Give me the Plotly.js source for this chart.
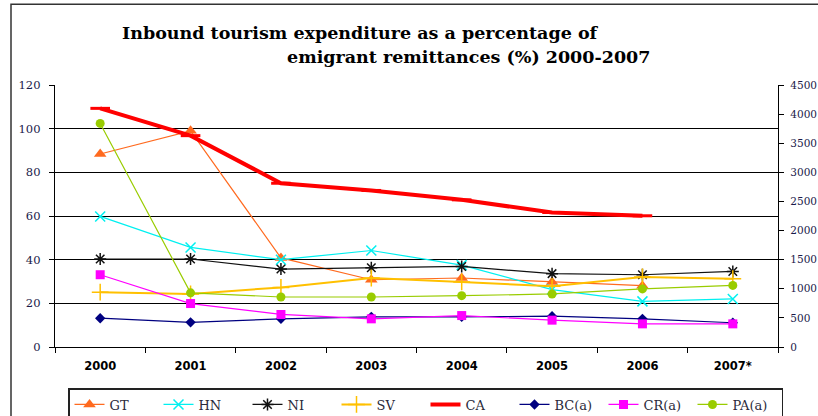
<!DOCTYPE html>
<html>
<head>
<meta charset="utf-8">
<script src="https://cdn.plot.ly/plotly-3.0.1.min.js"></script>
<style>html,body{margin:0;padding:0;background:#fff;}#chart{width:818px;height:416px;}</style>
</head>
<body>
<div id="chart"></div>
<script>
const years = ["2000", "2001", "2002", "2003", "2004", "2005", "2006", "2007*"];
const GT = [88.4, 99.0, 40.8, 30.8, 31.6, 29.8, 28.1, null];
const HN = [59.8, 45.6, 40.0, 44.2, 37.5, 26.3, 20.9, 22.0];
const NI = [40.3, 40.3, 35.7, 36.3, 36.9, 33.6, 33.1, 34.6];
const SV = [25.1, 24.3, 27.3, 31.6, 29.8, 27.8, 32.1, 31.3];
const CA = [109.3, 96.8, 75.0, 71.7, 67.4, 61.6, 60.1, null];
const BC = [13.2, 11.3, 12.9, 13.8, 13.8, 14.1, 12.9, 11.1];
const CR = [33.1, 19.9, 14.9, 12.9, 14.4, 12.3, 10.6, 10.6];
const PA = [102.4, 24.8, 22.9, 22.9, 23.5, 24.3, 26.6, 28.2];
const leftTicks = [0, 20, 40, 60, 80, 100, 120];
const rightTicks = [0, 500, 1000, 1500, 2000, 2500, 3000, 3500, 4000, 4500];
const rightSeries = [];

function tr(name, y, color, lw, sym, msize, mline) {
  return {
    x: years, y: y, name: name, type: 'scatter', mode: 'lines+markers',
    line: {color: color, width: lw},
    marker: {symbol: sym, size: msize, color: color, line: {color: color, width: mline || 0}},
    connectgaps: false
  };
}
const data = [
  tr('GT', GT, '#FF6A1F', 1.2, 'triangle-up', 11),
  tr('HN', HN, '#00F0F0', 1.2, 'x-thin-open', 10, 1.5),
  tr('NI', NI, '#111111', 1.2, 'asterisk-open', 10, 1.5),
  tr('SV', SV, '#FFC000', 2, 'cross-thin-open', 12, 1.5),
  tr('CA', CA, '#FF0000', 4, 'line-ew-open', 14, 3),
  tr('BC(a)', BC, '#000080', 1.2, 'diamond', 8),
  tr('CR(a)', CR, '#FF00FF', 1.2, 'square', 9),
  tr('PA(a)', PA, '#99CC00', 1.2, 'circle', 9),
  {x: years.slice(0, rightSeries.length), y: rightSeries, yaxis: 'y2', type: 'scatter', mode: 'lines',
   showlegend: false, hoverinfo: 'skip'}
];

const L = 55, R = 778, T = 85, B = 347.5;
const W = R - L, H = B - T;
const px = v => (v - L) / W;
const py = v => (B - v) / H;
const serif = 'DejaVu Serif, serif';

const layout = {
  width: 818, height: 416,
  margin: {l: L, r: 818 - R, t: T, b: 416 - B, pad: 0},
  paper_bgcolor: '#ffffff', plot_bgcolor: '#ffffff',
  showlegend: true,
  xaxis: {
    type: 'category', range: [-0.5, 7.5],
    tickson: 'boundaries', ticks: 'outside', ticklen: 5, tickcolor: '#000',
    showline: true, linecolor: '#000', linewidth: 1.2,
    showgrid: false, zeroline: false,
    ticklabelstandoff: 8,
    tickfont: {family: 'DejaVu Sans, sans-serif', size: 11.5, color: '#000', weight: 'bold'}
  },
  yaxis: {
    range: [0, 120], tickvals: leftTicks, ticktext: leftTicks.map(String),
    ticks: 'outside', ticklen: 5, tickcolor: '#000',
    showline: true, linecolor: '#000', linewidth: 1.2,
    showgrid: true, gridcolor: '#000', gridwidth: 1,
    zeroline: false, ticklabelstandoff: 6,
    tickfont: {family: serif, size: 11.5, color: '#1a1a4a'}
  },
  yaxis2: {
    range: [0, 4500], tickvals: rightTicks, ticktext: rightTicks.map(String),
    overlaying: 'y', side: 'right', anchor: 'x',
    ticks: 'outside', ticklen: 5, tickcolor: '#000',
    showline: true, linecolor: '#000', linewidth: 1.2,
    showgrid: false, zeroline: false, ticklabelstandoff: 4,
    tickfont: {family: serif, size: 10.5, color: '#1a1a4a'}
  },
  legend: {
    orientation: 'h', x: px(68), xanchor: 'left',
    yref: 'container', y: 1 - 388 / 416, yanchor: 'top',
    bordercolor: '#222', borderwidth: 1.5, bgcolor: '#fff',
    font: {family: serif, size: 13, color: '#2a2a3a'},
    itemwidth: 30, entrywidth: 44, tracegroupgap: 0
  },
  annotations: [
    {text: 'Inbound tourism expenditure as a percentage of', xref: 'paper', yref: 'paper',
     x: px(120), y: py(33), xanchor: 'left', yanchor: 'middle', showarrow: false,
     font: {family: serif, size: 17.5, color: '#000', weight: 'bold'}},
    {text: 'emigrant remittances (%) 2000-2007', xref: 'paper', yref: 'paper',
     x: px(285), y: py(57), xanchor: 'left', yanchor: 'middle', showarrow: false,
     font: {family: serif, size: 17.5, color: '#000', weight: 'bold'}}
  ],
  shapes: [
    {type: 'rect', xref: 'paper', yref: 'paper', x0: px(11), x1: px(830), y0: py(430), y1: py(4),
     line: {color: '#333', width: 1.5}, fillcolor: 'rgba(0,0,0,0)', layer: 'below'}
  ]
};

Plotly.newPlot('chart', data, layout, {displayModeBar: false, staticPlot: true});
</script>
</body>
</html>
